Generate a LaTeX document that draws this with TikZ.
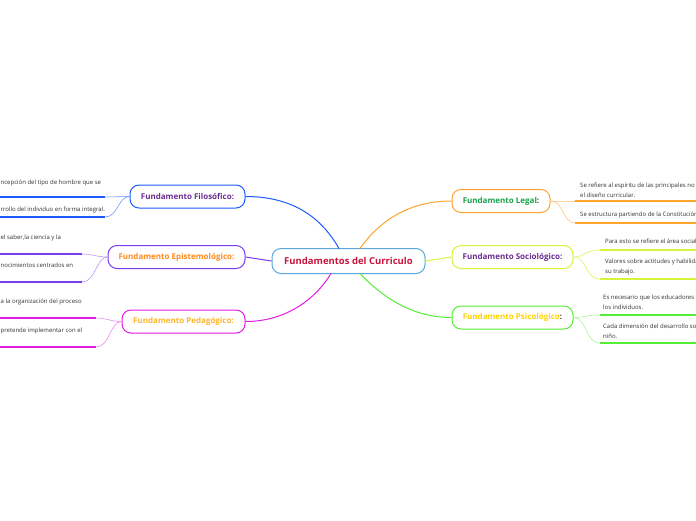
\documentclass[tikz,border=0pt]{standalone}
\usepackage{fontspec}
\setmainfont{Open Sans}
\definecolor{cblue}{HTML}{1E5BFF}
\definecolor{cpurple}{HTML}{7A3CF0}
\definecolor{cmag}{HTML}{E31CE3}
\definecolor{corange}{HTML}{FFA42E}
\definecolor{cyg}{HTML}{D6F53A}
\definecolor{cgreen}{HTML}{55EE33}
\definecolor{ccenter}{HTML}{5AA8DD}
\definecolor{tpurple}{HTML}{6A2C91}
\definecolor{torange}{HTML}{FF8A1C}
\definecolor{tyellow}{HTML}{FFB52A}
\definecolor{tgreen}{HTML}{16A34A}
\definecolor{tgold}{HTML}{FFD400}
\definecolor{tred}{HTML}{C8143C}
\definecolor{tleaf}{HTML}{333333}
\begin{document}
\begin{tikzpicture}[x=1pt,y=-1pt,
  mainbox/.style={draw, line width=1pt, rounded corners=9pt, fill=white, inner sep=0pt, minimum height=23pt, font=\fontsize{8}{9}\selectfont\bfseries},
  leaftext/.style={inner sep=0pt, text=tleaf, font=\fontsize{6}{9.5}\selectfont, align=left},
  leafline/.style={line width=2pt},
  branch/.style={line width=1pt},
  twig/.style={line width=0.5pt}]
\useasboundingbox (0,0) rectangle (696,520);
\clip (0,0) rectangle (696,520);
\fill[white] (0,0) rectangle (696,520);

% central node
\node[draw=ccenter, line width=1pt, rounded corners=9pt, fill=white, minimum width=153pt, minimum height=25pt, inner sep=0pt, text=tred, font=\fontsize{9.5}{11}\selectfont\bfseries] (c) at (348.5,261) {Fundamentos del Curriculo};

% main nodes
\node[mainbox, draw=cblue, minimum width=115pt, text=tpurple] (fil) at (187.5,196.5) {Fundamento Filosófico:};
\node[mainbox, draw=cpurple, minimum width=137pt, text=torange] (epi) at (176.5,257) {Fundamento Epistemológico:};
\node[mainbox, draw=cmag, minimum width=123pt, text=tyellow] (ped) at (183.5,321.5) {Fundamento Pedagógico:};
\node[mainbox, draw=corange, minimum width=98pt, text=tgreen] (leg) at (501,201) {Fundamento Legal\textcolor{tleaf}{:}};
\node[mainbox, draw=cyg, minimum width=121pt, text=tpurple] (soc) at (512.5,257) {Fundamento Sociológico:};
\node[mainbox, draw=cgreen, minimum width=121pt, text=tgold] (psi) at (512.5,317.5) {Fundamento Psicológico\textcolor{tleaf}{:}};

% branches from center
\coordinate (cfil) at (339,248.5);
\coordinate (cped) at (331,273.5);
\coordinate (cleg) at (360,248.5);
\coordinate (cpsi) at (360,273.5);
\draw[branch, cblue] (cfil) .. controls (320,215) and (290,196.5) .. (fil.east);
\draw[branch, cpurple] (c.west) -- (epi.east);
\draw[branch, cmag] (cped) .. controls (315,300) and (285,321.5) .. (ped.east);
\draw[branch, corange] (cleg) .. controls (380,220) and (410,201) .. (leg.west);
\draw[branch, cyg] (c.east) -- (soc.west);
\draw[branch, cgreen] (cpsi) .. controls (385,300) and (415,317.5) .. (psi.west);

% Filosofico leaves
\node[leaftext, anchor=base west] (f1) at (0.5,184) {ncepción del tipo de hombre que se};
\node[leaftext, anchor=base west] (f2) at (0.5,211) {rrollo del individuo en forma integral.};
\coordinate (f1e) at (105,197);
\coordinate (f2e) at (105,217);
\coordinate (f1s) at (-5,197);
\coordinate (f2s) at (-5,217);
\draw[leafline, cblue] (f1s) -- (f1e);
\draw[leafline, cblue] (f2s) -- (f2e);
\draw[twig, cblue!70] (fil.west) .. controls (118,196.5) and (115,197) .. (f1e);
\draw[twig, cblue!70] (fil.west) .. controls (118,196.5) and (118,217) .. (f2e);

% Epistemologico leaves
\node[leaftext, anchor=base west] (e1) at (0.5,239) {el saber,la ciencia y la};
\node[leaftext, anchor=base west] (e2) at (0.5,267) {nocimientos centrados en};
\coordinate (e1e) at (82,254);
\coordinate (e2e) at (82,282);
\coordinate (e1s) at (-5,254);
\coordinate (e2s) at (-5,282);
\draw[leafline, cpurple] (e1s) -- (e1e);
\draw[leafline, cpurple] (e2s) -- (e2e);
\draw[twig, cpurple!60] (epi.west) .. controls (96,257) and (93,254) .. (e1e);
\draw[twig, cpurple!60] (epi.west) .. controls (96,257) and (96,282) .. (e2e);

% Pedagogico leaves
\node[leaftext, anchor=base west] (p1) at (0.5,303) {a la organización del proceso};
\node[leaftext, anchor=base west] (p2) at (0.5,332) {pretende implementar con el};
\coordinate (p1e) at (96,318);
\coordinate (p2e) at (96,347);
\coordinate (p1s) at (-5,318);
\coordinate (p2s) at (-5,347);
\draw[leafline, cmag] (p1s) -- (p1e);
\draw[leafline, cmag] (p2s) -- (p2e);
\draw[twig, cmag!60] (ped.west) .. controls (110,321.5) and (107,318) .. (p1e);
\draw[twig, cmag!60] (ped.west) .. controls (110,321.5) and (110,347) .. (p2e);

% Legal leaves
\node[leaftext, anchor=base west] (l1) at (580,197) {Se refiere al espíritu de las principales no\\el diseño curricular.};
\node[leaftext, anchor=base west] (l2) at (580,216) {Se estructura partiendo de la Constitución};
\coordinate (l1s) at (575,201);
\coordinate (l2s) at (575,223);
\coordinate (l1e) at (702,201);
\coordinate (l2e) at (702,223);
\draw[leafline, corange] (l1s) -- (l1e);
\draw[leafline, corange] (l2s) -- (l2e);
\draw[twig, corange!70] (leg.east) .. controls (562,201) and (565,201) .. (l1s);
\draw[twig, corange!70] (leg.east) .. controls (564,201) and (562,223) .. (l2s);

% Sociologico leaves
\node[leaftext, anchor=base west] (s1) at (605,243) {Para esto se refiere el área social};
\node[leaftext, anchor=base west] (s2) at (605,273) {Valores sobre actitudes y habilida\\su trabajo.};
\coordinate (s1s) at (600,250);
\coordinate (s2s) at (600,279);
\coordinate (s1e) at (702,250);
\coordinate (s2e) at (702,279);
\draw[leafline, cyg] (s1s) -- (s1e);
\draw[leafline, cyg] (s2s) -- (s2e);
\draw[twig, cyg] (soc.east) .. controls (585,257) and (585,250) .. (s1s);
\draw[twig, cyg] (soc.east) .. controls (587,257) and (585,279) .. (s2s);

% Psicologico leaves
\node[leaftext, anchor=base west] (q1) at (603,309) {Es necesario que los educadores\\los individuos.};
\node[leaftext, anchor=base west] (q2) at (603,338) {Cada dimensión del desarrollo so\\niño.};
\coordinate (q1s) at (600,315);
\coordinate (q2s) at (600,343);
\coordinate (q1e) at (702,315);
\coordinate (q2e) at (702,343);
\draw[leafline, cgreen] (q1s) -- (q1e);
\draw[leafline, cgreen] (q2s) -- (q2e);
\draw[twig, cgreen!60] (psi.east) .. controls (585,317.5) and (585,315) .. (q1s);
\draw[twig, cgreen!60] (psi.east) .. controls (587,317.5) and (585,343) .. (q2s);
\end{tikzpicture}
\end{document}
